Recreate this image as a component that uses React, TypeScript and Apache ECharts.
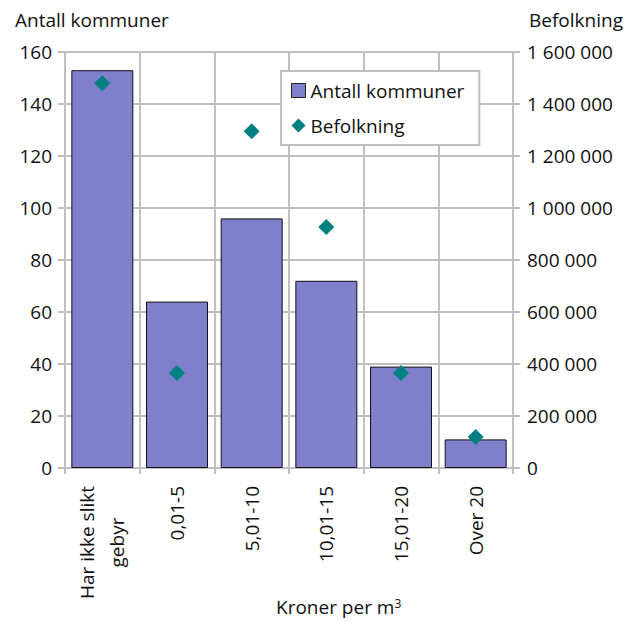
import React, { useEffect, useRef } from "react";
import * as echarts from "echarts";

const categories = ["Har ikke slikt\ngebyr", "0,01-5", "5,01-10", "10,01-15", "15,01-20", "Over 20"];
const antallKommuner = [153, 64, 96, 72, 39, 11];
const befolkning = [1480000, 365000, 1295000, 927000, 365000, 119000];

const FONT = "'Open Sans', 'Noto Sans', sans-serif";
const GRID = "#c0c0c0";
const FS = 19;

const fmtSpace = (v: number) => String(v).replace(/\B(?=(\d{3})+(?!\d))/g, " ");

export default function App() {
  const ref = useRef<HTMLDivElement>(null);
  useEffect(() => {
    const chart = echarts.init(ref.current!, null, { renderer: "svg" });
    chart.setOption({
      animation: false,
      textStyle: { fontFamily: FONT },
      grid: { left: 65, right: 128, top: 52, bottom: 155 },
      legend: {
        orient: "vertical",
        left: 281,
        top: 71,
        backgroundColor: "#fff",
        borderColor: GRID,
        borderWidth: 2,
        padding: [10, 15, 10, 10],
        itemGap: 16,
        itemWidth: 14,
        itemHeight: 14,
        textStyle: { fontSize: FS, color: "#111", fontFamily: FONT },
        data: [
          { name: "Antall kommuner", icon: "rect", itemStyle: { borderColor: "#222", borderWidth: 1 } },
          { name: "Befolkning", icon: "diamond" },
        ],
      },
      graphic: [
        { type: "text", left: 15, top: 10, style: { text: "Antall kommuner", fontSize: FS, fill: "#111", fontFamily: FONT } },
        { type: "text", right: 18, top: 10, style: { text: "Befolkning", fontSize: FS, fill: "#111", fontFamily: FONT } },
        {
          type: "text",
          left: 276,
          top: 597,
          style: {
            text: "Kroner per m{sup|3}",
            fontSize: FS,
            fill: "#111",
            fontFamily: FONT,
            rich: { sup: { fontSize: 12, verticalAlign: "top", padding: [0, 0, 8, 0], fill: "#111", fontFamily: FONT } },
          },
        },
      ],
      xAxis: {
        type: "category",
        data: categories,
        boundaryGap: true,
        axisLine: { show: true, lineStyle: { color: GRID, width: 2 } },
        axisTick: { show: true, length: 6, lineStyle: { color: GRID, width: 2 } },
        splitLine: { show: true, lineStyle: { color: GRID, width: 2 } },
        axisLabel: {
          rotate: 90,
          fontSize: FS,
          color: "#111",
          margin: 18,
          align: "right",
          fontFamily: FONT,
          formatter: (v: string) =>
            v
              .split("\n")
              .map((s) => "{c|" + s + "}")
              .join("\n"),
          rich: {
            c: { align: "center", fontSize: FS, color: "#111", fontFamily: FONT, lineHeight: 30 },
          },
        },
      },
      yAxis: [
        {
          type: "value",
          min: 0,
          max: 160,
          interval: 20,
          axisLine: { show: true, lineStyle: { color: GRID, width: 2 } },
          axisTick: { show: true, length: 7, lineStyle: { color: GRID, width: 2 } },
          splitLine: { show: true, lineStyle: { color: GRID, width: 2 } },
          axisLabel: { fontSize: FS, color: "#111", margin: 13, fontFamily: FONT },
        },
        {
          type: "value",
          min: 0,
          max: 1600000,
          interval: 200000,
          position: "right",
          axisLine: { show: true, lineStyle: { color: GRID, width: 2 } },
          axisTick: { show: true, length: 7, lineStyle: { color: GRID, width: 2 } },
          splitLine: { show: false },
          axisLabel: { fontSize: FS, color: "#111", margin: 14, fontFamily: FONT, formatter: (v: number) => fmtSpace(v) },
        },
      ],
      series: [
        {
          name: "Antall kommuner",
          type: "bar",
          data: antallKommuner,
          barCategoryGap: "17%",
          itemStyle: { color: "#7f7fcc", borderColor: "#111", borderWidth: 1 },
          z: 2,
        },
        {
          name: "Befolkning",
          type: "scatter",
          yAxisIndex: 1,
          data: befolkning,
          symbol: "diamond",
          symbolSize: 16,
          itemStyle: { color: "#008080", opacity: 1 },
          z: 3,
        },
      ],
    });
    return () => chart.dispose();
  }, []);
  return <div ref={ref} style={{ width: 641, height: 623, position: "absolute", left: 0, top: 0 }} />;
}
